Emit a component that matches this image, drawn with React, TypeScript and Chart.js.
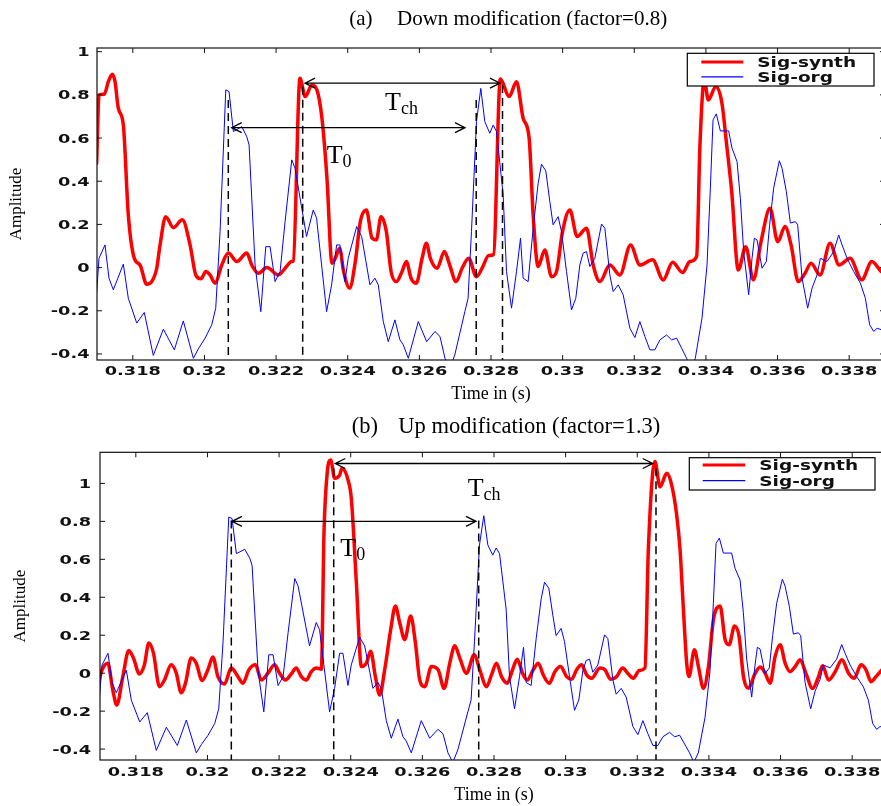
import { useEffect, useRef } from "react";
import { Chart, registerables } from "chart.js";

Chart.register(...registerables);

// ---------- data ----------
const X_MIN = 0.317;
const X_MAX = 0.339;
const X_TICKS = [0.318, 0.32, 0.322, 0.324, 0.326, 0.328, 0.33, 0.332, 0.334, 0.336, 0.338];
const X_TICK_LABELS = ["0.318", "0.32", "0.322", "0.324", "0.326", "0.328", "0.33", "0.332", "0.334", "0.336", "0.338"];
const Y_TICKS = [-0.4, -0.2, 0, 0.2, 0.4, 0.6, 0.8, 1];
const Y_TICK_LABELS = ["-0.4", "-0.2", "0", "0.2", "0.4", "0.6", "0.8", "1"];

const ORG_T = [
  0.31699, 0.317056, 0.317223, 0.317335, 0.317455, 0.317735, 0.317874, 0.318109, 0.31832, 0.318572,
  0.318852, 0.319159, 0.31941, 0.31969, 0.31983, 0.320017, 0.320203, 0.320315, 0.320436, 0.320595,
  0.320687, 0.320807, 0.321042, 0.321182, 0.321246, 0.321413, 0.321573, 0.321712, 0.321832, 0.321972,
  0.322112, 0.322251, 0.322438, 0.32253, 0.32285, 0.323037, 0.32313, 0.32341, 0.32355, 0.32369,
  0.323782, 0.323922, 0.324014, 0.324249, 0.324389, 0.32462, 0.32476, 0.324853, 0.324993, 0.325132,
  0.325318, 0.325458, 0.325551, 0.325691, 0.32597, 0.326204, 0.326436, 0.326575, 0.326715, 0.32685,
  0.32699, 0.32727, 0.32736, 0.327455, 0.327595, 0.327715, 0.327827, 0.327966, 0.32806, 0.328155,
  0.328339, 0.328433, 0.328573, 0.328712, 0.328824, 0.328897, 0.329037, 0.329177, 0.329316, 0.32941,
  0.32953, 0.329642, 0.329734, 0.329874, 0.329968, 0.330108, 0.330248, 0.330367, 0.33048, 0.330572,
  0.330667, 0.330759, 0.330899, 0.331086, 0.331179, 0.331318, 0.331411, 0.331551, 0.33169, 0.331877,
  0.332017, 0.332156, 0.332296, 0.332436, 0.332575, 0.332715, 0.332902, 0.333042, 0.333182, 0.333321,
  0.333461, 0.33358, 0.333704, 0.333891, 0.334031, 0.334124, 0.334199, 0.334291, 0.334403, 0.334635,
  0.334729, 0.334869, 0.334961, 0.335054, 0.335194, 0.335288, 0.335352, 0.335427, 0.335567, 0.335687,
  0.335779, 0.335891, 0.33605, 0.336126, 0.336246, 0.336358, 0.336497, 0.336562, 0.336685, 0.336841,
  0.336964, 0.337103, 0.337196, 0.337383, 0.337567, 0.337707, 0.337802, 0.337941, 0.338125, 0.338312,
  0.338452, 0.338572, 0.338684, 0.338779, 0.338899,
];
const ORG_Y = [
  -0.118, 0.043, 0.105, -0.049, -0.103, 0.016, -0.142, -0.257, -0.208, -0.407,
  -0.285, -0.381, -0.247, -0.42, -0.376, -0.327, -0.265, -0.188, 0.167, 0.823,
  0.815, 0.63, 0.653, 0.606, 0.568, 0.012, -0.204, 0.097, 0.097, -0.065,
  -0.018, 0.213, 0.499, 0.46, 0.144, 0.267, 0.229, -0.204, -0.08, 0.105,
  0.105, -0.065, 0.043, 0.19, 0.144, -0.08, -0.049, -0.08, -0.25, -0.343,
  -0.242, -0.335, -0.358, -0.42, -0.25, -0.343, -0.296, -0.319, -0.42, -0.47,
  -0.404, -0.204, -0.142, 0.167, 0.676, 0.83, 0.676, 0.622, 0.66, 0.63,
  0.337, -0.018, -0.188, -0.018, 0.136, -0.049, -0.065, 0.182, 0.39, 0.479,
  0.448, 0.306, 0.198, 0.236, 0.167, -0.018, -0.196, -0.142, 0.012, 0.067,
  0.074, 0.005, 0.043, 0.202, 0.182, -0.034, -0.111, -0.08, -0.126, -0.281,
  -0.324, -0.25, -0.319, -0.381, -0.381, -0.335, -0.312, -0.335, -0.327, -0.373,
  -0.42, -0.47, -0.42, -0.234, 0.012, 0.368, 0.684, 0.712, 0.633, 0.633,
  0.553, 0.491, 0.321, 0.074, -0.126, 0.043, 0.136, 0.128, -0.003, 0.028,
  0.198, 0.368, 0.495, 0.46, 0.352, 0.206, 0.213, 0.198, -0.049, -0.188,
  -0.095, -0.034, 0.043, 0.028, 0.074, 0.151, 0.105, 0.043, -0.018, -0.072,
  -0.142, -0.265, -0.296, -0.281, -0.288,
];

const SYN_A_T = [
  0.31699, 0.317056, 0.317204, 0.317316, 0.317428, 0.317503, 0.317595, 0.317735, 0.317874, 0.318042,
  0.318201, 0.318388, 0.318528, 0.318668, 0.31876, 0.318919, 0.319131, 0.319383, 0.319598, 0.319757,
  0.319905, 0.320036, 0.320156, 0.320296, 0.320483, 0.320668, 0.320902, 0.321182, 0.321321, 0.321506,
  0.321741, 0.322064, 0.322251, 0.322438, 0.32248, 0.322667, 0.322813, 0.323, 0.32314, 0.32328,
  0.32342, 0.32356, 0.323652, 0.323773, 0.323885, 0.324053, 0.324212, 0.324352, 0.32452, 0.324679,
  0.324799, 0.32493, 0.325078, 0.32521, 0.325358, 0.325517, 0.325637, 0.325768, 0.325916, 0.326076,
  0.326196, 0.326307, 0.326494, 0.326698, 0.326846, 0.327025, 0.327193, 0.327377, 0.327592, 0.327751,
  0.327936, 0.32807, 0.32826, 0.328507, 0.328712, 0.328897, 0.329065, 0.329177, 0.329316, 0.329503,
  0.32969, 0.32983, 0.329997, 0.330201, 0.330405, 0.330667, 0.330853, 0.33104, 0.331318, 0.331598,
  0.331897, 0.332156, 0.332511, 0.332808, 0.33307, 0.33335, 0.333554, 0.333741, 0.333834, 0.333955,
  0.334067, 0.334273, 0.33444, 0.33458, 0.33472, 0.334904, 0.335111, 0.335324, 0.335539, 0.33579,
  0.336006, 0.336209, 0.336377, 0.336581, 0.336768, 0.336936, 0.337187, 0.337466, 0.337718, 0.338025,
  0.338352, 0.338631, 0.338891,
];
const SYN_A_Y = [
  0.483, 0.8, 0.803, 0.861, 0.895, 0.861, 0.738, 0.661, 0.244, 0.043,
  0.012, -0.077, -0.065, -0.003, 0.105, 0.236, 0.185, 0.221, 0.105, -0.034,
  -0.052, -0.018, -0.034, -0.072, 0.012, 0.067, 0.028, 0.067, 0.012, -0.026,
  0.0, -0.034, -0.003, 0.028, 0.03, 0.877, 0.792, 0.846, 0.823, 0.692,
  0.414, 0.02, 0.043, 0.09, -0.018, -0.095, 0.028, 0.213, 0.267, 0.136,
  0.128, 0.236, 0.167, -0.018, -0.065, -0.018, 0.028, -0.049, -0.072, 0.043,
  0.113, 0.043, -0.003, 0.074, 0.012, -0.065, -0.003, 0.043, -0.042, -0.003,
  0.056, 0.06, 0.873, 0.792, 0.861, 0.692, 0.599, 0.244, 0.005, 0.082,
  -0.042, -0.018, 0.167, 0.267, 0.144, 0.182, 0.012, -0.065, 0.012, -0.034,
  0.105, 0.012, 0.036, -0.057, 0.025, -0.023, 0.028, 0.051, 0.568, 0.869,
  0.776, 0.838, 0.769, 0.568, 0.352, -0.011, 0.097, -0.057, 0.12, 0.275,
  0.12, 0.19, 0.105, -0.065, -0.026, 0.02, -0.034, 0.113, 0.012, 0.043,
  -0.057, 0.028, -0.018,
];

const SYN_B_T = [
  0.31694, 0.317058, 0.317217, 0.317357, 0.317469, 0.317637, 0.317804, 0.317933, 0.318101, 0.31824,
  0.318363, 0.318492, 0.31866, 0.318799, 0.318987, 0.319126, 0.319266, 0.319386, 0.319546, 0.319685,
  0.319853, 0.320012, 0.320152, 0.320292, 0.320476, 0.320664, 0.320851, 0.32099, 0.321158, 0.321343,
  0.321502, 0.321689, 0.321874, 0.322013, 0.322181, 0.32234, 0.32248, 0.32262, 0.32276, 0.3229,
  0.32304, 0.32318, 0.323254, 0.323347, 0.32344, 0.323551, 0.32369, 0.323757, 0.323925, 0.324017,
  0.324157, 0.324297, 0.324437, 0.324557, 0.324688, 0.324808, 0.324948, 0.325116, 0.325247, 0.325367,
  0.325507, 0.325675, 0.325806, 0.325926, 0.326066, 0.326253, 0.32644, 0.326608, 0.326765, 0.326905,
  0.327044, 0.327232, 0.327447, 0.327603, 0.32779, 0.32793, 0.32807, 0.32821, 0.328369, 0.328517,
  0.328648, 0.328797, 0.328928, 0.329096, 0.329235, 0.329375, 0.329543, 0.3297, 0.32986, 0.330027,
  0.330167, 0.330306, 0.330446, 0.330586, 0.330726, 0.330957, 0.331097, 0.331256, 0.331424, 0.331592,
  0.331751, 0.33189, 0.332058, 0.332215, 0.33231, 0.332494, 0.332634, 0.332822, 0.332961, 0.333101,
  0.333193, 0.333288, 0.33338, 0.333444, 0.333595, 0.333707, 0.333847, 0.333987, 0.334127, 0.334312,
  0.334452, 0.334564, 0.334715, 0.334842, 0.334965, 0.335105, 0.335272, 0.33543, 0.335569, 0.335709,
  0.335848, 0.335988, 0.336128, 0.336267, 0.336407, 0.336547, 0.336706, 0.336894, 0.337061, 0.337173,
  0.33734, 0.337526, 0.337712, 0.337899, 0.338059, 0.338246, 0.338386, 0.338525, 0.338665, 0.338828,
];
const SYN_B_Y = [
  -0.062, 0.018, 0.053, -0.089, -0.168, -0.018, 0.12, 0.08, -0.004, 0.044,
  0.159, 0.106, -0.071, -0.036, 0.044, 0.003, -0.103, -0.053, 0.08, 0.053,
  -0.039, 0.018, 0.085, -0.018, -0.057, 0.027, -0.018, -0.053, 0.018, 0.044,
  -0.036, 0.0, 0.044, 0.0, -0.036, -0.004, 0.027, -0.018, -0.036, 0.008,
  0.027, 0.021, 0.743, 1.062, 1.124, 1.027, 1.044, 1.08, 1.018, 0.92,
  0.478, 0.035, 0.053, 0.115, -0.018, -0.115, 0.018, 0.23, 0.354, 0.266,
  0.177, 0.301, 0.159, -0.036, -0.071, 0.035, 0.018, -0.08, 0.053, 0.145,
  0.08, 0.0, 0.097, 0.018, -0.071, -0.009, 0.053, -0.018, -0.053, 0.018,
  0.074, 0.0, -0.036, 0.018, 0.053, -0.009, -0.053, 0.008, 0.035, -0.018,
  -0.032, 0.018, 0.044, -0.009, -0.027, 0.027, 0.018, -0.032, -0.018, 0.027,
  -0.004, -0.027, 0.014, 0.027, 0.655, 1.115, 0.982, 1.053, 0.991, 0.832,
  0.655, 0.336, 0.053, -0.018, 0.124, 0.035, -0.08, 0.035, 0.283, 0.354,
  0.177, 0.15, 0.248, 0.194, -0.018, -0.08, -0.009, 0.032, 0.0, -0.053,
  0.088, 0.15, 0.053, 0.008, 0.035, 0.071, 0.0, -0.08, -0.018, 0.039,
  -0.036, 0.008, 0.071, 0.0, -0.027, 0.044, 0.018, -0.045, -0.018, 0.018,
];

// annotation positions (data units)
const DASH_A_X = [0.320666, 0.322743, 0.327587, 0.328321];
const DASH_A_TOP = [0.776, 0.838, 0.776, 0.846];
const ARROW_A = [
  { x1: 0.322807, x2: 0.328251, y: 0.854 },
  { x1: 0.320761, x2: 0.327274, y: 0.648 },
];
const LABEL_A = [
  { x: 0.325041, y: 0.73, main: "T", sub: "ch" },
  { x: 0.323413, y: 0.483, main: "T", sub: "0" },
];

const DASH_B_X = [0.320666, 0.323525, 0.327573, 0.332523];
const DASH_B_TOP = [0.805, 1.08, 0.805, 1.08];
const ARROW_B = [
  { x1: 0.323569, x2: 0.332431, y: 1.105 },
  { x1: 0.320685, x2: 0.327498, y: 0.8 },
];
const LABEL_B = [
  { x: 0.327266, y: 0.932, main: "T", sub: "ch" },
  { x: 0.323709, y: 0.619, main: "T", sub: "0" },
];

// ---------- layout ----------
const SERIF = "'Liberation Serif', 'Times New Roman', serif";
const SANS = "'DejaVu Sans', sans-serif";

type Panel = any;

const PANEL_A: Panel = {
  canvasTop: 0, width: 885, height: 410,
  areaTop: 48, yAxisW: 97, xAxisH: 50,
  yMin: -0.428, yMax: 1.017,
  synthT: SYN_A_T, synthY: SYN_A_Y,
  tag: "(a)", tagX: 349.3, title: "Down modification (factor=0.8)", titleX: 397, titleBase: 25, titleSize: 21,
  xTitlePad: 5, yTitlePad: 6.8,
  xLabelOff: 15, yLabelGap: 7.5,
  legend: { x: 687.3, y: 53.3, w: 186.7, h: 32.7, r1: 8.7, r2: 23.5, s1: 14, s2: 56, tx: 70 },
  dashX: DASH_A_X, dashTop: DASH_A_TOP, arrows: ARROW_A, labels: LABEL_A,
};

const PANEL_B: Panel = {
  canvasTop: 410, width: 888, height: 396,
  areaTop: 42.3, yAxisW: 100, xAxisH: 46,
  yMin: -0.4575, yMax: 1.164,
  synthT: SYN_B_T, synthY: SYN_B_Y,
  tag: "(b)", tagX: 351.7, title: "Up modification (factor=1.3)", titleX: 398.3, titleBase: 23.3, titleSize: 22.5,
  xTitlePad: 0, yTitlePad: 10.3,
  xLabelOff: 15.5, yLabelGap: 9,
  legend: { x: 689.3, y: 47.7, w: 185.7, h: 32.3, r1: 7.3, r2: 23, s1: 13.4, s2: 56, tx: 70 },
  dashX: DASH_B_X, dashTop: DASH_B_TOP, arrows: ARROW_B, labels: LABEL_B,
};

function stretchText(ctx: CanvasRenderingContext2D, text: string, x: number, y: number, sx: number, align: CanvasTextAlign) {
  ctx.save();
  ctx.translate(x, y);
  ctx.scale(sx, 1);
  ctx.textAlign = align;
  ctx.textBaseline = "alphabetic";
  ctx.fillText(text, 0, 0);
  ctx.restore();
}

function decorPlugin(p: Panel) {
  return {
    id: "panelDecor",
    afterDatasetsDraw(chart: any) {
      const { ctx, chartArea: a } = chart;
      const xs = chart.scales.x;
      const ys = chart.scales.y;
      ctx.save();
      ctx.strokeStyle = "#000";
      ctx.lineWidth = 1.5;
      ctx.setLineDash([8, 5]);
      p.dashX.forEach((v: number, i: number) => {
        const px = xs.getPixelForValue(v);
        ctx.beginPath();
        ctx.moveTo(px, ys.getPixelForValue(p.dashTop[i]));
        ctx.lineTo(px, a.bottom);
        ctx.stroke();
      });
      ctx.setLineDash([]);
      ctx.lineWidth = 1.3;
      p.arrows.forEach((ar: any) => {
        const x1 = xs.getPixelForValue(ar.x1);
        const x2 = xs.getPixelForValue(ar.x2);
        const yy = ys.getPixelForValue(ar.y);
        ctx.beginPath();
        ctx.moveTo(x1, yy);
        ctx.lineTo(x2, yy);
        ctx.moveTo(x1 + 10, yy - 5);
        ctx.lineTo(x1, yy);
        ctx.lineTo(x1 + 10, yy + 5);
        ctx.moveTo(x2 - 10, yy - 5);
        ctx.lineTo(x2, yy);
        ctx.lineTo(x2 - 10, yy + 5);
        ctx.stroke();
      });
      ctx.fillStyle = "#000";
      ctx.textBaseline = "alphabetic";
      ctx.textAlign = "left";
      p.labels.forEach((lb: any) => {
        const px = xs.getPixelForValue(lb.x);
        const py = ys.getPixelForValue(lb.y);
        ctx.font = `26px ${SERIF}`;
        ctx.fillText(lb.main, px, py);
        const w = ctx.measureText(lb.main).width;
        ctx.font = `18px ${SERIF}`;
        ctx.fillText(lb.sub, px + w, py + 4);
      });
      ctx.restore();
    },
    afterDraw(chart: any) {
      const { ctx, chartArea: a } = chart;
      const xs = chart.scales.x;
      const ys = chart.scales.y;
      ctx.save();
      // frame
      ctx.strokeStyle = "#111";
      ctx.lineWidth = 1.2;
      ctx.strokeRect(a.left, a.top, a.right - a.left, a.bottom - a.top);
      // inward ticks
      ctx.lineWidth = 1;
      ctx.beginPath();
      X_TICKS.forEach((v) => {
        const px = xs.getPixelForValue(v);
        ctx.moveTo(px, a.bottom);
        ctx.lineTo(px, a.bottom - 5);
        ctx.moveTo(px, a.top);
        ctx.lineTo(px, a.top + 5);
      });
      Y_TICKS.forEach((v) => {
        const py = ys.getPixelForValue(v);
        ctx.moveTo(a.left, py);
        ctx.lineTo(a.left + 5, py);
        ctx.moveTo(a.right, py);
        ctx.lineTo(a.right - 5, py);
      });
      ctx.stroke();
      // tick labels
      ctx.fillStyle = "#111";
      ctx.font = `bold 12.5px ${SANS}`;
      X_TICKS.forEach((v, i) => {
        stretchText(ctx, X_TICK_LABELS[i], xs.getPixelForValue(v), a.bottom + p.xLabelOff, 1.42, "center");
      });
      Y_TICKS.forEach((v, i) => {
        stretchText(ctx, Y_TICK_LABELS[i], a.left - p.yLabelGap, ys.getPixelForValue(v) + 4.5, 1.42, "right");
      });
      // panel title
      ctx.fillStyle = "#000";
      ctx.font = `${p.titleSize}px ${SERIF}`;
      ctx.textAlign = "left";
      ctx.textBaseline = "alphabetic";
      ctx.fillText(p.tag, p.tagX, p.titleBase);
      ctx.fillText(p.title, p.titleX, p.titleBase);
      // legend
      const L = p.legend;
      ctx.fillStyle = "#fff";
      ctx.fillRect(L.x, L.y, L.w, L.h);
      ctx.strokeStyle = "#000";
      ctx.lineWidth = 1.2;
      ctx.strokeRect(L.x, L.y, L.w, L.h);
      ctx.lineCap = "butt";
      ctx.strokeStyle = "#ff0000";
      ctx.lineWidth = 3;
      ctx.beginPath();
      ctx.moveTo(L.x + L.s1, L.y + L.r1);
      ctx.lineTo(L.x + L.s2, L.y + L.r1);
      ctx.stroke();
      ctx.strokeStyle = "#0000ff";
      ctx.lineWidth = 1.2;
      ctx.beginPath();
      ctx.moveTo(L.x + L.s1, L.y + L.r2);
      ctx.lineTo(L.x + L.s2, L.y + L.r2);
      ctx.stroke();
      ctx.fillStyle = "#111";
      ctx.font = `bold 13.5px ${SANS}`;
      stretchText(ctx, "Sig-synth", L.x + L.tx, L.y + L.r1 + 4.9, 1.37, "left");
      stretchText(ctx, "Sig-org", L.x + L.tx, L.y + L.r2 + 4.9, 1.37, "left");
      ctx.restore();
    },
  };
}

function makeConfig(p: Panel): any {
  const org = ORG_T.map((t, i) => ({ x: t, y: ORG_Y[i] }));
  const syn = p.synthT.map((t: number, i: number) => ({ x: t, y: p.synthY[i] }));
  return {
    type: "line",
    data: {
      datasets: [
        {
          label: "Sig-synth",
          data: syn,
          borderColor: "#ff0000",
          borderWidth: 3.5,
          pointRadius: 0,
          cubicInterpolationMode: "monotone",
          borderJoinStyle: "round",
          borderCapStyle: "round",
          fill: false,
          order: 1,
        },
        {
          label: "Sig-org",
          data: org,
          borderColor: "#0000ff",
          borderWidth: 1,
          pointRadius: 0,
          tension: 0,
          fill: false,
          order: 0,
        },
      ],
    },
    options: {
      animation: false,
      responsive: false,
      maintainAspectRatio: false,
      devicePixelRatio: 1,
      events: [],
      layout: { padding: { top: p.areaTop, left: 0, right: 0, bottom: 0 } },
      plugins: { legend: { display: false }, title: { display: false }, tooltip: { enabled: false } },
      scales: {
        x: {
          type: "linear",
          position: "bottom",
          min: X_MIN,
          max: X_MAX,
          afterBuildTicks: (s: any) => {
            s.ticks = X_TICKS.map((value) => ({ value }));
          },
          afterFit: (s: any) => {
            s.height = p.xAxisH;
          },
          ticks: { display: false },
          grid: { display: false },
          border: { display: false },
          title: {
            display: true,
            text: "Time in (s)",
            color: "#000",
            font: { family: SERIF, size: 18 },
            padding: { top: 0, bottom: p.xTitlePad },
          },
        },
        y: {
          type: "linear",
          position: "left",
          min: p.yMin,
          max: p.yMax,
          afterBuildTicks: (s: any) => {
            s.ticks = Y_TICKS.map((value) => ({ value }));
          },
          afterFit: (s: any) => {
            s.width = p.yAxisW;
          },
          ticks: { display: false },
          grid: { display: false },
          border: { display: false },
          title: {
            display: true,
            text: "Amplitude",
            color: "#000",
            font: { family: SERIF, size: 17 },
            padding: { top: p.yTitlePad, bottom: 0 },
          },
        },
      },
    },
    plugins: [decorPlugin(p)],
  };
}

function PanelChart({ panel }: { panel: Panel }) {
  const ref = useRef<HTMLCanvasElement>(null);
  useEffect(() => {
    if (!ref.current) return;
    const chart = new Chart(ref.current, makeConfig(panel));
    return () => chart.destroy();
  }, [panel]);
  return (
    <canvas
      ref={ref}
      width={panel.width}
      height={panel.height}
      style={{ position: "absolute", left: 0, top: panel.canvasTop, width: panel.width, height: panel.height }}
    />
  );
}

export default function App() {
  return (
    <div
      style={{
        position: "absolute",
        left: 0,
        top: 0,
        width: 881,
        height: 806,
        overflow: "hidden",
        background: "#fff",
      }}
    >
      <PanelChart panel={PANEL_A} />
      <PanelChart panel={PANEL_B} />
    </div>
  );
}
